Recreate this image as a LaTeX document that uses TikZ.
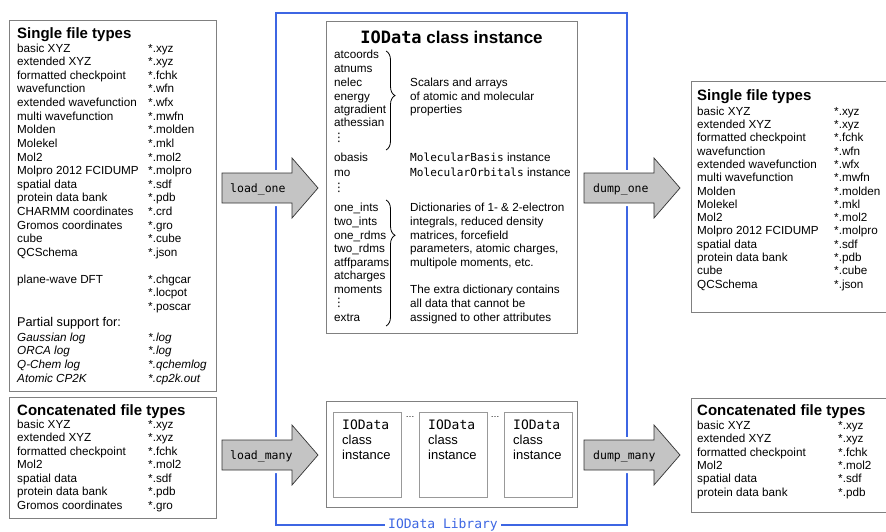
\documentclass[tikz,border=0pt]{standalone}
\usepackage{fontspec}
\setmainfont{Liberation Sans}
\setmonofont{DejaVu Sans Mono}
\newfontfamily\dotsfont{DejaVu Sans}
\usetikzlibrary{decorations.pathreplacing}
\definecolor{libblue}{RGB}{61,102,227}
\definecolor{arrowgray}{RGB}{196,196,196}
\newcommand{\rowfont}{\fontsize{11.7}{13.6}\selectfont}
\newcommand{\codeword}[1]{{\fontsize{11.1}{13}\selectfont\ttfamily #1}}
% block arrow: left end x, centre y
\newcommand{\ioarrow}[2]{\draw[bigarrow] (#1,#2-15) -- (#1+70,#2-15) -- (#1+70,#2-30)
  -- (#1+96,#2) -- (#1+70,#2+30) -- (#1+70,#2+15) -- (#1,#2+15) -- cycle;}

\begin{document}
\begin{tikzpicture}
		[x=1pt, y=-1pt,
		filebox/.style ={draw=black!50, line width=0.8pt},
		instbox/.style ={draw=black!40, line width=0.7pt},
		boxtitle/.style ={anchor=west, inner sep=0pt, font=\fontsize{15}{18}\selectfont\bfseries, text height=10.7pt, text depth=0pt},
		entry/.style ={anchor=west, inner sep=0pt, font=\rowfont, text height=8.4pt, text depth=0pt},
		bigarrow/.style ={draw=black!80, line width=0.7pt, fill=arrowgray, preaction={draw=white, line width=6pt}},
		arrowlabel/.style ={anchor=west, inner sep=0pt, font=\fontsize{11.5}{13}\selectfont\ttfamily, text height=8pt, text depth=0pt},
		attrbrace/.style ={decorate, decoration={brace, amplitude=9pt}, line width=0.8pt},
		library/.style ={draw=libblue, line width=2.8pt}]
		\useasboundingbox (0,0) rectangle (886,532);

		% IOData library frame
		\draw[library] (276,13) rectangle (627,525);
		\node[fill=white, text=libblue, inner xsep=3pt, inner ysep=1pt, font=\fontsize{13}{15}\selectfont\ttfamily] (liblabel) at (443,525) {IOData Library};

		% single file types (input)
		\draw[filebox] (9,20) rectangle (216,391);
		\node[boxtitle] (singlein) at (17,33) {Single file types};
		\foreach \ftype/\fext [count=\k from 0] in {basic XYZ/*.xyz, extended XYZ/*.xyz, formatted checkpoint/*.fchk,
			wavefunction/*.wfn, extended wavefunction/*.wfx, multi wavefunction/*.mwfn, Molden/*.molden,
			Molekel/*.mkl, Mol2/*.mol2, Molpro 2012 FCIDUMP/*.molpro, spatial data/*.sdf,
			protein data bank/*.pdb, CHARMM coordinates/*.crd, Gromos coordinates/*.gro, cube/*.cube, QCSchema/*.json}
		{
			\node[entry] (sin\k) at (17,48+13.6*\k) {\ftype};
			\node[entry] (sinx\k) at (148,48+13.6*\k) {\fext};
		}
		\node[entry] (pw) at (17,279) {plane-wave DFT};
		\node[entry] (pw1) at (148,279) {*.chgcar};
		\node[entry] (pw2) at (148,292.6) {*.locpot};
		\node[entry] (pw3) at (148,306.2) {*.poscar};
		\node[entry, font=\fontsize{12.7}{15}\selectfont, text height=9.1pt] (partial) at (17,322) {Partial support for:};
		\foreach \ftype/\fext [count=\k from 0] in {Gaussian log/*.log, ORCA log/*.log, Q-Chem log/*.qchemlog, Atomic CP2K/*.cp2k.out}
		{
			\node[entry, font=\rowfont\itshape] (part\k) at (17,337+13.6*\k) {\ftype};
			\node[entry, font=\rowfont\itshape] (partx\k) at (148,337+13.6*\k) {\fext};
		}

		% concatenated file types (input)
		\draw[filebox] (9,397) rectangle (216,518);
		\node[boxtitle] (concatin) at (17,410) {Concatenated file types};
		\foreach \ftype/\fext [count=\k from 0] in {basic XYZ/*.xyz, extended XYZ/*.xyz, formatted checkpoint/*.fchk,
			Mol2/*.mol2, spatial data/*.sdf, protein data bank/*.pdb, Gromos coordinates/*.gro}
		{
			\node[entry] (cin\k) at (17,424+13.5*\k) {\ftype};
			\node[entry] (cinx\k) at (148,424+13.5*\k) {\fext};
		}

		% IOData class instance
		\draw[filebox] (326,21) rectangle (577,333);
		\node[inner sep=0pt, font=\fontsize{17}{20}\selectfont\bfseries, text height=12.2pt, text depth=0pt] (insttitle) at (451.5,37) {\texttt{IOData} class instance};
		\foreach \attr/\y in {atcoords/54, atnums/68, nelec/82, energy/96, atgradient/109, athessian/122,
			obasis/157, mo/172, one\_ints/207, two\_ints/221, one\_rdms/235, two\_rdms/248,
			atffparams/262, atcharges/275, moments/289, extra/317}
		{
			\node[entry] at (334,\y) {\attr};
		}
		\foreach \y in {138,188,303}
			\node[anchor=west, inner sep=0pt, font=\dotsfont\fontsize{11.7}{13}\selectfont] at (333,\y) {⋮};
		\draw[attrbrace, decoration={aspect=0.45}] (386,51) -- (386,150);
		\draw[attrbrace, decoration={aspect=0.28}] (386,200) -- (386,326);
		\foreach \txt/\y in {Scalars and arrays/82, of atomic and molecular/96, properties/109,
			\codeword{MolecularBasis} instance/157, \codeword{MolecularOrbitals} instance/172,
			Dictionaries of 1- \& 2-electron/207, {integrals, reduced density}/221, {matrices, forcefield}/235,
			{parameters, atomic charges,}/248, {multipole moments, etc.}/262,
			The extra dictionary contains/289, all data that cannot be/303, assigned to other attributes/317}
		{
			\node[entry] at (410,\y) {\txt};
		}

		% several IOData instances
		\draw[filebox] (326,401) rectangle (577,507);
		\foreach \x [count=\k] in {333,419,504}
		{
			\draw[instbox] (\x,412) rectangle (\x+68,497);
			\node[anchor=base west, inner sep=0pt, font=\fontsize{13}{15}\selectfont\ttfamily] (inst\k) at (\x+9,429.5) {IOData};
			\node[anchor=base west, inner sep=0pt, font=\fontsize{13}{15}\selectfont] at (\x+9,444.5) {class};
			\node[anchor=base west, inner sep=0pt, font=\fontsize{13}{15}\selectfont] at (\x+9,459.5) {instance};
		}
		\node[inner sep=0pt, font=\fontsize{9}{10}\selectfont] (dots1) at (410,417) {\ldots};
		\node[inner sep=0pt, font=\fontsize{9}{10}\selectfont] (dots2) at (495,417) {\ldots};

		% single file types (output)
		\draw[filebox] (887,81) -- (691,81) -- (691,312) -- (887,312);
		\node[boxtitle] (singleout) at (697,95) {Single file types};
		\foreach \ftype/\fext [count=\k from 0] in {basic XYZ/*.xyz, extended XYZ/*.xyz, formatted checkpoint/*.fchk,
			wavefunction/*.wfn, extended wavefunction/*.wfx, multi wavefunction/*.mwfn, Molden/*.molden,
			Molekel/*.mkl, Mol2/*.mol2, Molpro 2012 FCIDUMP/*.molpro, spatial data/*.sdf,
			protein data bank/*.pdb, cube/*.cube, QCSchema/*.json}
		{
			\node[entry] (sout\k) at (697,111+13.3*\k) {\ftype};
			\node[entry] (soutx\k) at (834,111+13.3*\k) {\fext};
		}

		% concatenated file types (output)
		\draw[filebox] (887,398) -- (691,398) -- (691,512) -- (887,512);
		\node[boxtitle] (concatout) at (697,410) {Concatenated file types};
		\foreach \ftype/\fext [count=\k from 0] in {basic XYZ/*.xyz, extended XYZ/*.xyz, formatted checkpoint/*.fchk,
			Mol2/*.mol2, spatial data/*.sdf, protein data bank/*.pdb}
		{
			\node[entry] (cout\k) at (697,425+13.4*\k) {\ftype};
			\node[entry] (coutx\k) at (838,425+13.4*\k) {\fext};
		}

		% load and dump arrows
		\ioarrow{222}{188}
		\ioarrow{222}{455}
		\ioarrow{584}{188}
		\ioarrow{584}{455}
		\node[arrowlabel] (loadone) at (230,188) {load\_one};
		\node[arrowlabel] (loadmany) at (230,455) {load\_many};
		\node[arrowlabel] (dumpone) at (593,188) {dump\_one};
		\node[arrowlabel] (dumpmany) at (593,455) {dump\_many};

	\end{tikzpicture}
\end{document}
